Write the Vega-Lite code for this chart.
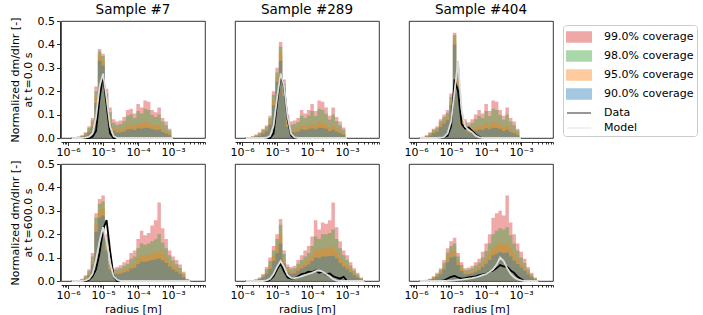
{
"$schema":"https://vega.github.io/schema/vega-lite/v6.json",
"padding":{"left":9,"top":2,"right":0,"bottom":0},
"spacing":0,
"data":{"values":[
{"s":"Sample #7","t":0,"r":1.259e-6,"c99":0,"c98":0,"c95":0,"c90":0,"Data":0,"Model":0},
{"s":"Sample #7","t":0,"r":1.585e-6,"c99":0.003,"c98":0.002,"c95":0.001,"c90":0.001,"Data":0,"Model":0},
{"s":"Sample #7","t":0,"r":1.995e-6,"c99":0.006,"c98":0.005,"c95":0.003,"c90":0.002,"Data":0,"Model":0},
{"s":"Sample #7","t":0,"r":2.512e-6,"c99":0.012,"c98":0.01,"c95":0.007,"c90":0.005,"Data":0,"Model":0},
{"s":"Sample #7","t":0,"r":3.162e-6,"c99":0.025,"c98":0.021,"c95":0.015,"c90":0.011,"Data":0,"Model":0.002},
{"s":"Sample #7","t":0,"r":3.981e-6,"c99":0.05,"c98":0.043,"c95":0.033,"c90":0.025,"Data":0,"Model":0.006},
{"s":"Sample #7","t":0,"r":5.012e-6,"c99":0.085,"c98":0.075,"c95":0.06,"c90":0.048,"Data":0.005,"Model":0.02},
{"s":"Sample #7","t":0,"r":6.31e-6,"c99":0.22,"c98":0.2,"c95":0.17,"c90":0.15,"Data":0.03,"Model":0.09},
{"s":"Sample #7","t":0,"r":7.943e-6,"c99":0.38,"c98":0.37,"c95":0.35,"c90":0.33,"Data":0.17,"Model":0.22},
{"s":"Sample #7","t":0,"r":1e-5,"c99":0.36,"c98":0.35,"c95":0.33,"c90":0.31,"Data":0.27,"Model":0.275},
{"s":"Sample #7","t":0,"r":1.259e-5,"c99":0.21,"c98":0.19,"c95":0.16,"c90":0.14,"Data":0.14,"Model":0.17},
{"s":"Sample #7","t":0,"r":1.585e-5,"c99":0.13,"c98":0.11,"c95":0.08,"c90":0.06,"Data":0.02,"Model":0.05},
{"s":"Sample #7","t":0,"r":1.995e-5,"c99":0.08,"c98":0.065,"c95":0.045,"c90":0.032,"Data":0,"Model":0.008},
{"s":"Sample #7","t":0,"r":2.512e-5,"c99":0.07,"c98":0.056,"c95":0.035,"c90":0.024,"Data":0,"Model":0},
{"s":"Sample #7","t":0,"r":3.162e-5,"c99":0.075,"c98":0.06,"c95":0.036,"c90":0.025,"Data":0,"Model":0},
{"s":"Sample #7","t":0,"r":3.981e-5,"c99":0.09,"c98":0.072,"c95":0.042,"c90":0.028,"Data":0,"Model":0},
{"s":"Sample #7","t":0,"r":5.012e-5,"c99":0.12,"c98":0.095,"c95":0.055,"c90":0.036,"Data":0,"Model":0},
{"s":"Sample #7","t":0,"r":6.31e-5,"c99":0.125,"c98":0.1,"c95":0.057,"c90":0.038,"Data":0,"Model":0},
{"s":"Sample #7","t":0,"r":7.943e-5,"c99":0.105,"c98":0.085,"c95":0.05,"c90":0.034,"Data":0,"Model":0},
{"s":"Sample #7","t":0,"r":1e-4,"c99":0.145,"c98":0.115,"c95":0.064,"c90":0.042,"Data":0,"Model":0},
{"s":"Sample #7","t":0,"r":1.259e-4,"c99":0.13,"c98":0.105,"c95":0.06,"c90":0.04,"Data":0,"Model":0},
{"s":"Sample #7","t":0,"r":1.585e-4,"c99":0.16,"c98":0.125,"c95":0.068,"c90":0.044,"Data":0,"Model":0},
{"s":"Sample #7","t":0,"r":1.995e-4,"c99":0.155,"c98":0.12,"c95":0.066,"c90":0.043,"Data":0,"Model":0},
{"s":"Sample #7","t":0,"r":2.512e-4,"c99":0.12,"c98":0.098,"c95":0.058,"c90":0.038,"Data":0,"Model":0},
{"s":"Sample #7","t":0,"r":3.162e-4,"c99":0.11,"c98":0.09,"c95":0.052,"c90":0.034,"Data":0,"Model":0},
{"s":"Sample #7","t":0,"r":3.981e-4,"c99":0.13,"c98":0.1,"c95":0.055,"c90":0.035,"Data":0,"Model":0},
{"s":"Sample #7","t":0,"r":5.012e-4,"c99":0.085,"c98":0.07,"c95":0.04,"c90":0.026,"Data":0,"Model":0},
{"s":"Sample #7","t":0,"r":6.31e-4,"c99":0.07,"c98":0.055,"c95":0.03,"c90":0.019,"Data":0,"Model":0},
{"s":"Sample #7","t":0,"r":7.943e-4,"c99":0.04,"c98":0.032,"c95":0.019,"c90":0.012,"Data":0,"Model":0},
{"s":"Sample #7","t":0,"r":1e-3,"c99":0,"c98":0,"c95":0,"c90":0,"Data":0,"Model":0},

{"s":"Sample #289","t":0,"r":1.259e-6,"c99":0,"c98":0,"c95":0,"c90":0,"Data":0,"Model":0},
{"s":"Sample #289","t":0,"r":1.585e-6,"c99":0.003,"c98":0.002,"c95":0.001,"c90":0.001,"Data":0,"Model":0},
{"s":"Sample #289","t":0,"r":1.995e-6,"c99":0.008,"c98":0.006,"c95":0.004,"c90":0.003,"Data":0,"Model":0},
{"s":"Sample #289","t":0,"r":2.512e-6,"c99":0.015,"c98":0.012,"c95":0.008,"c90":0.006,"Data":0,"Model":0},
{"s":"Sample #289","t":0,"r":3.162e-6,"c99":0.025,"c98":0.02,"c95":0.014,"c90":0.01,"Data":0,"Model":0},
{"s":"Sample #289","t":0,"r":3.981e-6,"c99":0.04,"c98":0.034,"c95":0.025,"c90":0.019,"Data":0,"Model":0},
{"s":"Sample #289","t":0,"r":5.012e-6,"c99":0.055,"c98":0.048,"c95":0.037,"c90":0.029,"Data":0,"Model":0.001},
{"s":"Sample #289","t":0,"r":6.31e-6,"c99":0.095,"c98":0.085,"c95":0.07,"c90":0.058,"Data":0,"Model":0.008},
{"s":"Sample #289","t":0,"r":7.943e-6,"c99":0.2,"c98":0.185,"c95":0.16,"c90":0.14,"Data":0.02,"Model":0.052},
{"s":"Sample #289","t":0,"r":1e-5,"c99":0.3,"c98":0.28,"c95":0.26,"c90":0.24,"Data":0.15,"Model":0.17},
{"s":"Sample #289","t":0,"r":1.259e-5,"c99":0.41,"c98":0.39,"c95":0.36,"c90":0.33,"Data":0.27,"Model":0.276},
{"s":"Sample #289","t":0,"r":1.585e-5,"c99":0.25,"c98":0.23,"c95":0.2,"c90":0.18,"Data":0.22,"Model":0.224},
{"s":"Sample #289","t":0,"r":1.995e-5,"c99":0.1,"c98":0.085,"c95":0.062,"c90":0.048,"Data":0.08,"Model":0.091},
{"s":"Sample #289","t":0,"r":2.512e-5,"c99":0.07,"c98":0.056,"c95":0.035,"c90":0.024,"Data":0.01,"Model":0.018},
{"s":"Sample #289","t":0,"r":3.162e-5,"c99":0.075,"c98":0.06,"c95":0.037,"c90":0.025,"Data":0,"Model":0.003},
{"s":"Sample #289","t":0,"r":3.981e-5,"c99":0.085,"c98":0.068,"c95":0.04,"c90":0.027,"Data":0,"Model":0},
{"s":"Sample #289","t":0,"r":5.012e-5,"c99":0.12,"c98":0.095,"c95":0.055,"c90":0.036,"Data":0,"Model":0},
{"s":"Sample #289","t":0,"r":6.31e-5,"c99":0.105,"c98":0.085,"c95":0.05,"c90":0.034,"Data":0,"Model":0},
{"s":"Sample #289","t":0,"r":7.943e-5,"c99":0.12,"c98":0.096,"c95":0.056,"c90":0.037,"Data":0,"Model":0},
{"s":"Sample #289","t":0,"r":1e-4,"c99":0.145,"c98":0.115,"c95":0.064,"c90":0.042,"Data":0,"Model":0},
{"s":"Sample #289","t":0,"r":1.259e-4,"c99":0.115,"c98":0.094,"c95":0.056,"c90":0.037,"Data":0,"Model":0},
{"s":"Sample #289","t":0,"r":1.585e-4,"c99":0.16,"c98":0.125,"c95":0.068,"c90":0.044,"Data":0,"Model":0},
{"s":"Sample #289","t":0,"r":1.995e-4,"c99":0.155,"c98":0.12,"c95":0.066,"c90":0.043,"Data":0,"Model":0},
{"s":"Sample #289","t":0,"r":2.512e-4,"c99":0.13,"c98":0.104,"c95":0.06,"c90":0.039,"Data":0,"Model":0},
{"s":"Sample #289","t":0,"r":3.162e-4,"c99":0.095,"c98":0.078,"c95":0.046,"c90":0.03,"Data":0,"Model":0},
{"s":"Sample #289","t":0,"r":3.981e-4,"c99":0.13,"c98":0.1,"c95":0.055,"c90":0.035,"Data":0,"Model":0},
{"s":"Sample #289","t":0,"r":5.012e-4,"c99":0.09,"c98":0.072,"c95":0.042,"c90":0.027,"Data":0,"Model":0},
{"s":"Sample #289","t":0,"r":6.31e-4,"c99":0.07,"c98":0.055,"c95":0.03,"c90":0.02,"Data":0,"Model":0},
{"s":"Sample #289","t":0,"r":7.943e-4,"c99":0.045,"c98":0.035,"c95":0.02,"c90":0.013,"Data":0,"Model":0},
{"s":"Sample #289","t":0,"r":1e-3,"c99":0,"c98":0,"c95":0,"c90":0,"Data":0,"Model":0},

{"s":"Sample #404","t":0,"r":1.259e-6,"c99":0,"c98":0,"c95":0,"c90":0,"Data":0,"Model":0},
{"s":"Sample #404","t":0,"r":1.585e-6,"c99":0.005,"c98":0.004,"c95":0.003,"c90":0.002,"Data":0,"Model":0},
{"s":"Sample #404","t":0,"r":1.995e-6,"c99":0.012,"c98":0.01,"c95":0.007,"c90":0.005,"Data":0,"Model":0},
{"s":"Sample #404","t":0,"r":2.512e-6,"c99":0.025,"c98":0.021,"c95":0.015,"c90":0.011,"Data":0,"Model":0},
{"s":"Sample #404","t":0,"r":3.162e-6,"c99":0.04,"c98":0.035,"c95":0.027,"c90":0.02,"Data":0,"Model":0},
{"s":"Sample #404","t":0,"r":3.981e-6,"c99":0.05,"c98":0.044,"c95":0.034,"c90":0.027,"Data":0,"Model":0},
{"s":"Sample #404","t":0,"r":5.012e-6,"c99":0.08,"c98":0.072,"c95":0.058,"c90":0.047,"Data":0,"Model":0.001},
{"s":"Sample #404","t":0,"r":6.31e-6,"c99":0.1,"c98":0.09,"c95":0.075,"c90":0.062,"Data":0.005,"Model":0.005},
{"s":"Sample #404","t":0,"r":7.943e-6,"c99":0.12,"c98":0.108,"c95":0.09,"c90":0.076,"Data":0.01,"Model":0.02},
{"s":"Sample #404","t":0,"r":1e-5,"c99":0.19,"c98":0.175,"c95":0.155,"c90":0.14,"Data":0.05,"Model":0.07},
{"s":"Sample #404","t":0,"r":1.259e-5,"c99":0.45,"c98":0.44,"c95":0.42,"c90":0.4,"Data":0.25,"Model":0.2},
{"s":"Sample #404","t":0,"r":1.585e-5,"c99":0.3,"c98":0.28,"c95":0.25,"c90":0.22,"Data":0.2,"Model":0.33},
{"s":"Sample #404","t":0,"r":1.995e-5,"c99":0.1,"c98":0.087,"c95":0.068,"c90":0.055,"Data":0.06,"Model":0.12},
{"s":"Sample #404","t":0,"r":2.512e-5,"c99":0.08,"c98":0.066,"c95":0.045,"c90":0.033,"Data":0.04,"Model":0.05},
{"s":"Sample #404","t":0,"r":3.162e-5,"c99":0.067,"c98":0.054,"c95":0.034,"c90":0.024,"Data":0.045,"Model":0.035},
{"s":"Sample #404","t":0,"r":3.981e-5,"c99":0.08,"c98":0.064,"c95":0.038,"c90":0.026,"Data":0.03,"Model":0.025},
{"s":"Sample #404","t":0,"r":5.012e-5,"c99":0.1,"c98":0.08,"c95":0.047,"c90":0.031,"Data":0.015,"Model":0.01},
{"s":"Sample #404","t":0,"r":6.31e-5,"c99":0.12,"c98":0.095,"c95":0.055,"c90":0.036,"Data":0.005,"Model":0.003},
{"s":"Sample #404","t":0,"r":7.943e-5,"c99":0.105,"c98":0.085,"c95":0.05,"c90":0.034,"Data":0,"Model":0},
{"s":"Sample #404","t":0,"r":1e-4,"c99":0.145,"c98":0.115,"c95":0.064,"c90":0.042,"Data":0,"Model":0},
{"s":"Sample #404","t":0,"r":1.259e-4,"c99":0.115,"c98":0.094,"c95":0.056,"c90":0.037,"Data":0,"Model":0},
{"s":"Sample #404","t":0,"r":1.585e-4,"c99":0.16,"c98":0.125,"c95":0.068,"c90":0.044,"Data":0,"Model":0},
{"s":"Sample #404","t":0,"r":1.995e-4,"c99":0.155,"c98":0.12,"c95":0.066,"c90":0.043,"Data":0,"Model":0},
{"s":"Sample #404","t":0,"r":2.512e-4,"c99":0.12,"c98":0.098,"c95":0.058,"c90":0.038,"Data":0,"Model":0},
{"s":"Sample #404","t":0,"r":3.162e-4,"c99":0.095,"c98":0.078,"c95":0.046,"c90":0.03,"Data":0,"Model":0},
{"s":"Sample #404","t":0,"r":3.981e-4,"c99":0.13,"c98":0.1,"c95":0.055,"c90":0.035,"Data":0,"Model":0},
{"s":"Sample #404","t":0,"r":5.012e-4,"c99":0.085,"c98":0.07,"c95":0.04,"c90":0.026,"Data":0,"Model":0},
{"s":"Sample #404","t":0,"r":6.31e-4,"c99":0.07,"c98":0.055,"c95":0.03,"c90":0.02,"Data":0,"Model":0},
{"s":"Sample #404","t":0,"r":7.943e-4,"c99":0.04,"c98":0.032,"c95":0.019,"c90":0.012,"Data":0,"Model":0},
{"s":"Sample #404","t":0,"r":1e-3,"c99":0,"c98":0,"c95":0,"c90":0,"Data":0,"Model":0},

{"s":"Sample #7","t":600,"r":1.259e-6,"c99":0,"c98":0,"c95":0,"c90":0,"Data":0,"Model":0},
{"s":"Sample #7","t":600,"r":1.585e-6,"c99":0.001,"c98":0.001,"c95":0,"c90":0,"Data":0,"Model":0},
{"s":"Sample #7","t":600,"r":1.995e-6,"c99":0.003,"c98":0.002,"c95":0.001,"c90":0.001,"Data":0,"Model":0},
{"s":"Sample #7","t":600,"r":2.512e-6,"c99":0.01,"c98":0.008,"c95":0.005,"c90":0.004,"Data":0,"Model":0},
{"s":"Sample #7","t":600,"r":3.162e-6,"c99":0.025,"c98":0.02,"c95":0.014,"c90":0.01,"Data":0,"Model":0.003},
{"s":"Sample #7","t":600,"r":3.981e-6,"c99":0.05,"c98":0.043,"c95":0.032,"c90":0.025,"Data":0.005,"Model":0.01},
{"s":"Sample #7","t":600,"r":5.012e-6,"c99":0.12,"c98":0.105,"c95":0.085,"c90":0.07,"Data":0.02,"Model":0.03},
{"s":"Sample #7","t":600,"r":6.31e-6,"c99":0.29,"c98":0.27,"c95":0.24,"c90":0.21,"Data":0.05,"Model":0.09},
{"s":"Sample #7","t":600,"r":7.943e-6,"c99":0.35,"c98":0.33,"c95":0.3,"c90":0.27,"Data":0.12,"Model":0.17},
{"s":"Sample #7","t":600,"r":1e-5,"c99":0.365,"c98":0.34,"c95":0.31,"c90":0.28,"Data":0.22,"Model":0.23},
{"s":"Sample #7","t":600,"r":1.259e-5,"c99":0.2,"c98":0.18,"c95":0.15,"c90":0.13,"Data":0.26,"Model":0.17},
{"s":"Sample #7","t":600,"r":1.585e-5,"c99":0.085,"c98":0.072,"c95":0.058,"c90":0.048,"Data":0.13,"Model":0.08},
{"s":"Sample #7","t":600,"r":1.995e-5,"c99":0.055,"c98":0.046,"c95":0.036,"c90":0.029,"Data":0.02,"Model":0.02},
{"s":"Sample #7","t":600,"r":2.512e-5,"c99":0.06,"c98":0.05,"c95":0.038,"c90":0.03,"Data":0,"Model":0.005},
{"s":"Sample #7","t":600,"r":3.162e-5,"c99":0.067,"c98":0.055,"c95":0.04,"c90":0.031,"Data":0,"Model":0},
{"s":"Sample #7","t":600,"r":3.981e-5,"c99":0.08,"c98":0.065,"c95":0.047,"c90":0.036,"Data":0,"Model":0},
{"s":"Sample #7","t":600,"r":5.012e-5,"c99":0.09,"c98":0.073,"c95":0.053,"c90":0.041,"Data":0,"Model":0},
{"s":"Sample #7","t":600,"r":6.31e-5,"c99":0.12,"c98":0.095,"c95":0.068,"c90":0.052,"Data":0,"Model":0},
{"s":"Sample #7","t":600,"r":7.943e-5,"c99":0.13,"c98":0.105,"c95":0.075,"c90":0.057,"Data":0,"Model":0},
{"s":"Sample #7","t":600,"r":1e-4,"c99":0.18,"c98":0.14,"c95":0.095,"c90":0.072,"Data":0,"Model":0},
{"s":"Sample #7","t":600,"r":1.259e-4,"c99":0.215,"c98":0.16,"c95":0.108,"c90":0.082,"Data":0,"Model":0},
{"s":"Sample #7","t":600,"r":1.585e-4,"c99":0.195,"c98":0.155,"c95":0.108,"c90":0.082,"Data":0,"Model":0},
{"s":"Sample #7","t":600,"r":1.995e-4,"c99":0.205,"c98":0.16,"c95":0.112,"c90":0.085,"Data":0,"Model":0},
{"s":"Sample #7","t":600,"r":2.512e-4,"c99":0.237,"c98":0.17,"c95":0.118,"c90":0.09,"Data":0,"Model":0},
{"s":"Sample #7","t":600,"r":3.162e-4,"c99":0.26,"c98":0.178,"c95":0.122,"c90":0.093,"Data":0,"Model":0},
{"s":"Sample #7","t":600,"r":3.981e-4,"c99":0.335,"c98":0.2,"c95":0.125,"c90":0.095,"Data":0,"Model":0},
{"s":"Sample #7","t":600,"r":5.012e-4,"c99":0.225,"c98":0.165,"c95":0.115,"c90":0.088,"Data":0,"Model":0},
{"s":"Sample #7","t":600,"r":6.31e-4,"c99":0.18,"c98":0.14,"c95":0.1,"c90":0.077,"Data":0,"Model":0},
{"s":"Sample #7","t":600,"r":7.943e-4,"c99":0.13,"c98":0.11,"c95":0.08,"c90":0.062,"Data":0,"Model":0},
{"s":"Sample #7","t":600,"r":1e-3,"c99":0.105,"c98":0.088,"c95":0.065,"c90":0.05,"Data":0,"Model":0},
{"s":"Sample #7","t":600,"r":1.259e-3,"c99":0.09,"c98":0.072,"c95":0.052,"c90":0.04,"Data":0,"Model":0},
{"s":"Sample #7","t":600,"r":1.585e-3,"c99":0.07,"c98":0.056,"c95":0.04,"c90":0.03,"Data":0,"Model":0},
{"s":"Sample #7","t":600,"r":1.995e-3,"c99":0.04,"c98":0.032,"c95":0.022,"c90":0.016,"Data":0,"Model":0},
{"s":"Sample #7","t":600,"r":2.512e-3,"c99":0.01,"c98":0.008,"c95":0.005,"c90":0.004,"Data":0,"Model":0},
{"s":"Sample #7","t":600,"r":3.162e-3,"c99":0,"c98":0,"c95":0,"c90":0,"Data":0,"Model":0},

{"s":"Sample #289","t":600,"r":1.259e-6,"c99":0,"c98":0,"c95":0,"c90":0,"Data":0,"Model":0},
{"s":"Sample #289","t":600,"r":1.585e-6,"c99":0.001,"c98":0.001,"c95":0,"c90":0,"Data":0,"Model":0},
{"s":"Sample #289","t":600,"r":1.995e-6,"c99":0.003,"c98":0.002,"c95":0.001,"c90":0.001,"Data":0,"Model":0},
{"s":"Sample #289","t":600,"r":2.512e-6,"c99":0.008,"c98":0.006,"c95":0.004,"c90":0.003,"Data":0,"Model":0},
{"s":"Sample #289","t":600,"r":3.162e-6,"c99":0.015,"c98":0.012,"c95":0.009,"c90":0.007,"Data":0,"Model":0},
{"s":"Sample #289","t":600,"r":3.981e-6,"c99":0.03,"c98":0.025,"c95":0.019,"c90":0.015,"Data":0,"Model":0},
{"s":"Sample #289","t":600,"r":5.012e-6,"c99":0.06,"c98":0.05,"c95":0.038,"c90":0.03,"Data":0,"Model":0.003},
{"s":"Sample #289","t":600,"r":6.31e-6,"c99":0.1,"c98":0.085,"c95":0.066,"c90":0.052,"Data":0.005,"Model":0.01},
{"s":"Sample #289","t":600,"r":7.943e-6,"c99":0.15,"c98":0.13,"c95":0.105,"c90":0.085,"Data":0.02,"Model":0.03},
{"s":"Sample #289","t":600,"r":1e-5,"c99":0.2,"c98":0.18,"c95":0.15,"c90":0.12,"Data":0.05,"Model":0.06},
{"s":"Sample #289","t":600,"r":1.259e-5,"c99":0.265,"c98":0.24,"c95":0.2,"c90":0.16,"Data":0.075,"Model":0.085},
{"s":"Sample #289","t":600,"r":1.585e-5,"c99":0.13,"c98":0.115,"c95":0.093,"c90":0.075,"Data":0.04,"Model":0.06},
{"s":"Sample #289","t":600,"r":1.995e-5,"c99":0.07,"c98":0.06,"c95":0.047,"c90":0.038,"Data":0.015,"Model":0.025},
{"s":"Sample #289","t":600,"r":2.512e-5,"c99":0.06,"c98":0.05,"c95":0.039,"c90":0.031,"Data":0.01,"Model":0.013},
{"s":"Sample #289","t":600,"r":3.162e-5,"c99":0.065,"c98":0.054,"c95":0.042,"c90":0.033,"Data":0.012,"Model":0.012},
{"s":"Sample #289","t":600,"r":3.981e-5,"c99":0.09,"c98":0.074,"c95":0.056,"c90":0.044,"Data":0.02,"Model":0.015},
{"s":"Sample #289","t":600,"r":5.012e-5,"c99":0.11,"c98":0.09,"c95":0.068,"c90":0.053,"Data":0.03,"Model":0.02},
{"s":"Sample #289","t":600,"r":6.31e-5,"c99":0.13,"c98":0.105,"c95":0.08,"c90":0.062,"Data":0.033,"Model":0.025},
{"s":"Sample #289","t":600,"r":7.943e-5,"c99":0.15,"c98":0.12,"c95":0.09,"c90":0.07,"Data":0.04,"Model":0.03},
{"s":"Sample #289","t":600,"r":1e-4,"c99":0.19,"c98":0.15,"c95":0.11,"c90":0.085,"Data":0.038,"Model":0.035},
{"s":"Sample #289","t":600,"r":1.259e-4,"c99":0.26,"c98":0.19,"c95":0.135,"c90":0.1,"Data":0.045,"Model":0.042},
{"s":"Sample #289","t":600,"r":1.585e-4,"c99":0.22,"c98":0.18,"c95":0.13,"c90":0.098,"Data":0.035,"Model":0.045},
{"s":"Sample #289","t":600,"r":1.995e-4,"c99":0.25,"c98":0.2,"c95":0.14,"c90":0.105,"Data":0.04,"Model":0.04},
{"s":"Sample #289","t":600,"r":2.512e-4,"c99":0.245,"c98":0.2,"c95":0.14,"c90":0.105,"Data":0.028,"Model":0.03},
{"s":"Sample #289","t":600,"r":3.162e-4,"c99":0.26,"c98":0.205,"c95":0.142,"c90":0.107,"Data":0.032,"Model":0.02},
{"s":"Sample #289","t":600,"r":3.981e-4,"c99":0.335,"c98":0.22,"c95":0.145,"c90":0.108,"Data":0.02,"Model":0.008},
{"s":"Sample #289","t":600,"r":5.012e-4,"c99":0.23,"c98":0.18,"c95":0.128,"c90":0.097,"Data":0.015,"Model":0.002},
{"s":"Sample #289","t":600,"r":6.31e-4,"c99":0.17,"c98":0.14,"c95":0.1,"c90":0.077,"Data":0.01,"Model":0},
{"s":"Sample #289","t":600,"r":7.943e-4,"c99":0.13,"c98":0.11,"c95":0.08,"c90":0.062,"Data":0.018,"Model":0},
{"s":"Sample #289","t":600,"r":1e-3,"c99":0.11,"c98":0.09,"c95":0.066,"c90":0.05,"Data":0,"Model":0},
{"s":"Sample #289","t":600,"r":1.259e-3,"c99":0.08,"c98":0.066,"c95":0.048,"c90":0.037,"Data":0,"Model":0},
{"s":"Sample #289","t":600,"r":1.585e-3,"c99":0.055,"c98":0.045,"c95":0.033,"c90":0.025,"Data":0,"Model":0},
{"s":"Sample #289","t":600,"r":1.995e-3,"c99":0.035,"c98":0.028,"c95":0.02,"c90":0.015,"Data":0,"Model":0},
{"s":"Sample #289","t":600,"r":2.512e-3,"c99":0.015,"c98":0.012,"c95":0.008,"c90":0.006,"Data":0,"Model":0},
{"s":"Sample #289","t":600,"r":3.162e-3,"c99":0,"c98":0,"c95":0,"c90":0,"Data":0,"Model":0},

{"s":"Sample #404","t":600,"r":1.259e-6,"c99":0,"c98":0,"c95":0,"c90":0,"Data":0,"Model":0},
{"s":"Sample #404","t":600,"r":1.585e-6,"c99":0.002,"c98":0.001,"c95":0.001,"c90":0.001,"Data":0,"Model":0},
{"s":"Sample #404","t":600,"r":1.995e-6,"c99":0.005,"c98":0.004,"c95":0.003,"c90":0.002,"Data":0,"Model":0},
{"s":"Sample #404","t":600,"r":2.512e-6,"c99":0.01,"c98":0.008,"c95":0.006,"c90":0.005,"Data":0,"Model":0},
{"s":"Sample #404","t":600,"r":3.162e-6,"c99":0.02,"c98":0.017,"c95":0.013,"c90":0.01,"Data":0,"Model":0},
{"s":"Sample #404","t":600,"r":3.981e-6,"c99":0.035,"c98":0.03,"c95":0.023,"c90":0.018,"Data":0,"Model":0},
{"s":"Sample #404","t":600,"r":5.012e-6,"c99":0.055,"c98":0.047,"c95":0.037,"c90":0.029,"Data":0,"Model":0},
{"s":"Sample #404","t":600,"r":6.31e-6,"c99":0.09,"c98":0.078,"c95":0.062,"c90":0.05,"Data":0.003,"Model":0},
{"s":"Sample #404","t":600,"r":7.943e-6,"c99":0.14,"c98":0.122,"c95":0.1,"c90":0.08,"Data":0.01,"Model":0.001},
{"s":"Sample #404","t":600,"r":1e-5,"c99":0.17,"c98":0.15,"c95":0.125,"c90":0.1,"Data":0.018,"Model":0.002},
{"s":"Sample #404","t":600,"r":1.259e-5,"c99":0.185,"c98":0.16,"c95":0.13,"c90":0.105,"Data":0.022,"Model":0.003},
{"s":"Sample #404","t":600,"r":1.585e-5,"c99":0.12,"c98":0.105,"c95":0.085,"c90":0.068,"Data":0.015,"Model":0.005},
{"s":"Sample #404","t":600,"r":1.995e-5,"c99":0.08,"c98":0.068,"c95":0.054,"c90":0.043,"Data":0.01,"Model":0.006},
{"s":"Sample #404","t":600,"r":2.512e-5,"c99":0.055,"c98":0.046,"c95":0.036,"c90":0.029,"Data":0.012,"Model":0.008},
{"s":"Sample #404","t":600,"r":3.162e-5,"c99":0.058,"c98":0.048,"c95":0.037,"c90":0.03,"Data":0.015,"Model":0.01},
{"s":"Sample #404","t":600,"r":3.981e-5,"c99":0.065,"c98":0.054,"c95":0.042,"c90":0.033,"Data":0.018,"Model":0.012},
{"s":"Sample #404","t":600,"r":5.012e-5,"c99":0.08,"c98":0.066,"c95":0.05,"c90":0.04,"Data":0.02,"Model":0.015},
{"s":"Sample #404","t":600,"r":6.31e-5,"c99":0.095,"c98":0.078,"c95":0.06,"c90":0.047,"Data":0.025,"Model":0.02},
{"s":"Sample #404","t":600,"r":7.943e-5,"c99":0.125,"c98":0.1,"c95":0.076,"c90":0.06,"Data":0.028,"Model":0.025},
{"s":"Sample #404","t":600,"r":1e-4,"c99":0.16,"c98":0.128,"c95":0.095,"c90":0.074,"Data":0.032,"Model":0.03},
{"s":"Sample #404","t":600,"r":1.259e-4,"c99":0.2,"c98":0.16,"c95":0.118,"c90":0.09,"Data":0.04,"Model":0.04},
{"s":"Sample #404","t":600,"r":1.585e-4,"c99":0.27,"c98":0.2,"c95":0.145,"c90":0.11,"Data":0.045,"Model":0.05},
{"s":"Sample #404","t":600,"r":1.995e-4,"c99":0.29,"c98":0.215,"c95":0.155,"c90":0.118,"Data":0.055,"Model":0.07},
{"s":"Sample #404","t":600,"r":2.512e-4,"c99":0.3,"c98":0.225,"c95":0.165,"c90":0.124,"Data":0.068,"Model":0.1},
{"s":"Sample #404","t":600,"r":3.162e-4,"c99":0.28,"c98":0.22,"c95":0.16,"c90":0.12,"Data":0.062,"Model":0.085},
{"s":"Sample #404","t":600,"r":3.981e-4,"c99":0.365,"c98":0.23,"c95":0.163,"c90":0.122,"Data":0.06,"Model":0.055},
{"s":"Sample #404","t":600,"r":5.012e-4,"c99":0.25,"c98":0.195,"c95":0.14,"c90":0.105,"Data":0.045,"Model":0.03},
{"s":"Sample #404","t":600,"r":6.31e-4,"c99":0.2,"c98":0.16,"c95":0.115,"c90":0.088,"Data":0.035,"Model":0.015},
{"s":"Sample #404","t":600,"r":7.943e-4,"c99":0.16,"c98":0.13,"c95":0.095,"c90":0.073,"Data":0.018,"Model":0.007},
{"s":"Sample #404","t":600,"r":1e-3,"c99":0.125,"c98":0.1,"c95":0.075,"c90":0.058,"Data":0.008,"Model":0.003},
{"s":"Sample #404","t":600,"r":1.259e-3,"c99":0.095,"c98":0.077,"c95":0.057,"c90":0.044,"Data":0,"Model":0},
{"s":"Sample #404","t":600,"r":1.585e-3,"c99":0.06,"c98":0.049,"c95":0.036,"c90":0.028,"Data":0,"Model":0},
{"s":"Sample #404","t":600,"r":1.995e-3,"c99":0.035,"c98":0.028,"c95":0.02,"c90":0.016,"Data":0,"Model":0},
{"s":"Sample #404","t":600,"r":2.512e-3,"c99":0.015,"c98":0.012,"c95":0.008,"c90":0.006,"Data":0,"Model":0},
{"s":"Sample #404","t":600,"r":3.162e-3,"c99":0,"c98":0,"c95":0,"c90":0,"Data":0,"Model":0}
]},
"vconcat":[
{
 "transform":[{"filter":"datum.t==0"}],
 "facet":{"column":{"field":"s","type":"nominal","sort":["Sample #7","Sample #289","Sample #404"],"header":{"title":null,"labelFontSize":13.5,"labelPadding":4,"labelColor":"black"}}},
 "spacing":28,
 "spec":{"width":144,"height":117,"layer":[
  {"transform":[{"fold":["c99","c98","c95","c90"],"as":["k","v"]}],
   "mark":{"type":"area","interpolate":"step","opacity":0.4},
   "encoding":{
    "x":{"field":"r","type":"quantitative","scale":{"type":"log","domain":[6.3e-7,8.1e-3],"nice":false},
      "axis":{"title":null,"values":[7e-7,8e-7,9e-7,1e-6,2e-6,3e-6,4e-6,5e-6,6e-6,7e-6,8e-6,9e-6,1e-5,2e-5,3e-5,4e-5,5e-5,6e-5,7e-5,8e-5,9e-5,1e-4,2e-4,3e-4,4e-4,5e-4,6e-4,7e-4,8e-4,9e-4,1e-3,2e-3,3e-3,4e-3,5e-3,6e-3,7e-3,8e-3],
       "labelExpr":"datum.value==1e-6?'10⁻⁶':datum.value==1e-5?'10⁻⁵':datum.value==1e-4?'10⁻⁴':datum.value==1e-3?'10⁻³':''",
       "tickSize":{"condition":{"test":"indexof([1e-6,1e-5,1e-4,1e-3],datum.value)>=0","value":3.5},"value":2},
       "labelOverlap":false,"labelFlush":false}},
    "y":{"field":"v","type":"quantitative","stack":null,"scale":{"domain":[0,0.5],"nice":false},
      "axis":{"title":["Normalized dm/dlnr [-]","at t=0.0 s"],"values":[0,0.1,0.2,0.3,0.4,0.5],"tickCount":6,"format":".1f","labelOverlap":false}},
    "color":{"field":"k","type":"nominal","scale":{"domain":["c99","c98","c95","c90","Data","Model"],"range":["#d62728","#2ca02c","#ff7f0e","#1f77b4","#000000","#dcdcdc"]},
      "legend":{"title":null,"orient":"none","legendX":502,"legendY":4,
       "labelExpr":"datum.label=='c99'?'99.0% coverage':datum.label=='c98'?'98.0% coverage':datum.label=='c95'?'95.0% coverage':datum.label=='c90'?'90.0% coverage':datum.label",
       "strokeColor":"#cccccc","cornerRadius":3,"padding":3,"fillColor":"white","symbolSize":256,"labelFontSize":11,"labelColor":"black","rowPadding":1,"labelOffset":20,
       "symbolType":{"expr":"datum.value=='Data'||datum.value=='Model'?'M-1,0H2':'M-1,-0.6H2V0.6H-1Z'"},
       "symbolStrokeColor":{"expr":"datum.value=='Data'?'#000000':datum.value=='Model'?'#dcdcdc':'transparent'"},
       "symbolOpacity":{"expr":"datum.value=='Data'||datum.value=='Model'?1:0.4"},
       "symbolStrokeWidth":2}}
   }},
  {"transform":[{"fold":["Data","Model"],"as":["k","v"]}],
   "mark":{"type":"line","strokeWidth":1.8},
   "encoding":{"x":{"field":"r","type":"quantitative"},
    "y":{"field":"v","type":"quantitative","axis":{"title":["Normalized dm/dlnr [-]","at t=0.0 s"],"values":[0,0.1,0.2,0.3,0.4,0.5],"tickCount":6,"format":".1f","labelOverlap":false}},
    "color":{"field":"k","type":"nominal"}}}
 ]}
},
{
 "transform":[{"filter":"datum.t==600"}],
 "facet":{"column":{"field":"s","type":"nominal","sort":["Sample #7","Sample #289","Sample #404"],"header":{"title":null,"labels":false}}},
 "spacing":28,
 "spec":{"width":144,"height":117,"layer":[
  {"transform":[{"fold":["c99","c98","c95","c90"],"as":["k","v"]}],
   "mark":{"type":"area","interpolate":"step","opacity":0.4},
   "encoding":{
    "x":{"field":"r","type":"quantitative","scale":{"type":"log","domain":[6.3e-7,8.1e-3],"nice":false},
      "axis":{"title":"radius [m]","values":[7e-7,8e-7,9e-7,1e-6,2e-6,3e-6,4e-6,5e-6,6e-6,7e-6,8e-6,9e-6,1e-5,2e-5,3e-5,4e-5,5e-5,6e-5,7e-5,8e-5,9e-5,1e-4,2e-4,3e-4,4e-4,5e-4,6e-4,7e-4,8e-4,9e-4,1e-3,2e-3,3e-3,4e-3,5e-3,6e-3,7e-3,8e-3],
       "labelExpr":"datum.value==1e-6?'10⁻⁶':datum.value==1e-5?'10⁻⁵':datum.value==1e-4?'10⁻⁴':datum.value==1e-3?'10⁻³':''",
       "tickSize":{"condition":{"test":"indexof([1e-6,1e-5,1e-4,1e-3],datum.value)>=0","value":3.5},"value":2},
       "labelOverlap":false,"labelFlush":false,"titlePadding":3}},
    "y":{"field":"v","type":"quantitative","stack":null,"scale":{"domain":[0,0.5],"nice":false},
      "axis":{"title":["Normalized dm/dlnr [-]","at t=600.0 s"],"values":[0,0.1,0.2,0.3,0.4,0.5],"tickCount":6,"format":".1f","labelOverlap":false}},
    "color":{"field":"k","type":"nominal"}
   }},
  {"transform":[{"fold":["Data","Model"],"as":["k","v"]}],
   "mark":{"type":"line","strokeWidth":1.8},
   "encoding":{"x":{"field":"r","type":"quantitative"},
    "y":{"field":"v","type":"quantitative","axis":{"title":["Normalized dm/dlnr [-]","at t=600.0 s"],"values":[0,0.1,0.2,0.3,0.4,0.5],"tickCount":6,"format":".1f","labelOverlap":false}},
    "color":{"field":"k","type":"nominal"}}}
 ]}
}
],
"config":{
 "font":"DejaVu Sans",
 "view":{"stroke":"black","strokeWidth":0.8},
 "axis":{"grid":false,"domainColor":"black","domainWidth":0.8,"tickColor":"black","tickWidth":0.8,"labelColor":"black","labelFontSize":11,"titleFontSize":11,"titleColor":"black","titleFontWeight":"normal","labelPadding":1},
 "axisY":{"tickSize":3.5,"titlePadding":4,"labelPadding":2}
}
}
